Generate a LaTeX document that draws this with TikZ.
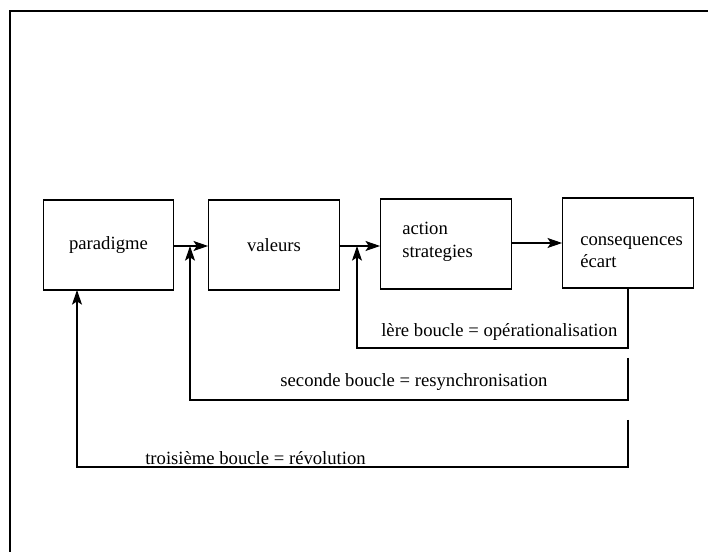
\documentclass[tikz,border=0pt]{standalone}
\usepackage{fontspec}
\setmainfont{Liberation Serif}
\usetikzlibrary{arrows.meta}
\begin{document}
\begin{tikzpicture}[x=0.75pt,y=-0.75pt,
  every node/.style={font=\fontsize{14}{17}\selectfont},
  stage/.style={draw,line width=0.8pt,minimum width=98pt,minimum height=67.5pt,inner sep=0pt},
  caption/.style={align=left,inner sep=0pt},
  flow/.style={line width=0.8pt,-{Stealth[length=11pt,width=7.5pt,inset=2.5pt]}}]
\useasboundingbox (0,0) rectangle (708,552);
% frame
\coordinate (fbl) at (10,552);
\coordinate (ftl) at (10,11);
\coordinate (ftr) at (708,11);
\draw[line width=1pt] (fbl) -- (ftl) -- (ftr);

% stages
\node[stage] (para) at (108.5,245) {paradigme};
\node[stage] (val)  at (274,245) {valeurs};
\node[stage] (act) at (446,244) {};
\node[caption,anchor=west] (actT) at (402,242) {action\\strategies};
\node[stage] (cons) at (628,243) {};
\node[caption,anchor=west] (consT) at (580,252) {consequences\\écart};

% forward chain
\draw[flow] (para.east |- 0,246) coordinate (pa) -- (val.west |- pa);
\draw[flow] (val.east |- 0,246) coordinate (va) -- (act.west |- va);
\draw[flow] (act.east |- 0,243) coordinate (aa) -- (cons.west |- aa);

% junctions on the forward arrows
\coordinate (j1) at (357,246);
\coordinate (j2) at (190,246);
\coordinate (j3) at (77,290);

% first loop
\coordinate (c1) at (357,348);
\draw[flow] (cons.south) |- (c1) -- (j1);
\node[anchor=east] (t1) at (622,332) {lère boucle = opérationalisation};

% second loop
\coordinate (s2) at (628,358);
\coordinate (c2) at (190,400);
\draw[flow] (s2) |- (c2) -- (j2);
\node (t2) at (414,382) {seconde boucle = resynchronisation};

% third loop
\coordinate (s3) at (628,420);
\coordinate (c3) at (77,467);
\draw[flow] (s3) |- (c3) -- (j3);
\node[anchor=base west,inner sep=0pt] (t3) at (145,465) {troisième boucle = révolution};
\end{tikzpicture}
\end{document}
